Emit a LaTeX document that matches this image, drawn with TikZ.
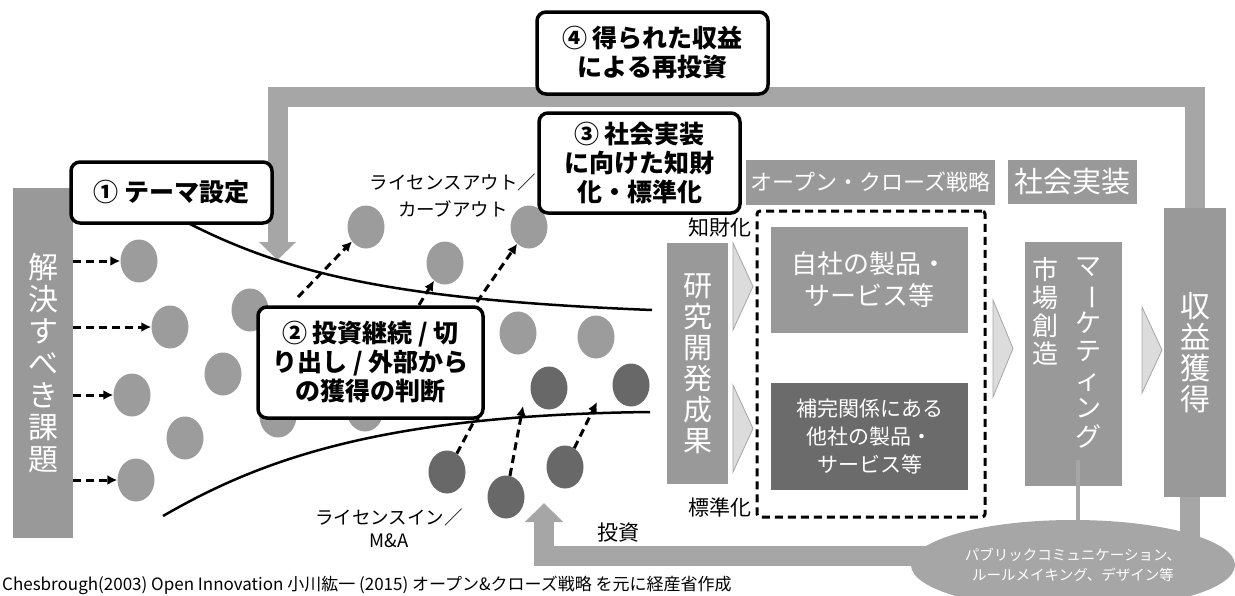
\documentclass[tikz,border=0pt]{standalone}
\usepackage{fontspec}
\setmainfont{Noto Sans CJK JP}
\usetikzlibrary{arrows.meta,shapes.geometric}
\definecolor{boxgray}{HTML}{999999}
\definecolor{boxdark}{HTML}{6B6B6B}
\definecolor{bandgray}{HTML}{A6A6A6}
\definecolor{chevgray}{HTML}{DCDCDC}
\definecolor{dotlight}{HTML}{9C9C9C}
\definecolor{dotdark}{HTML}{686868}
\newcommand{\fsz}[2]{\fontsize{#1}{#2}\selectfont}

\begin{document}
\begin{tikzpicture}[x=1pt, y=-1pt,
    block/.style={fill=boxgray, text=white, inner sep=0pt, align=center},
    callout/.style={draw=black, line width=3.5pt, rounded corners=9pt, fill=white,
        align=center, inner sep=0pt, font=\bfseries\fsz{25}{29}},
    dot/.style={ellipse, fill=dotlight, minimum width=37pt, minimum height=43pt, inner sep=0pt},
    darkdot/.style={dot, fill=dotdark},
    dasharrow/.style={dash pattern=on 8pt off 5pt, line width=3pt, -{Latex[length=10pt,width=10pt]}},
    funnel/.style={line width=2.5pt},
    band/.style={draw=bandgray, line width=20pt},
    chevron/.style={fill=chevgray, draw=bandgray, line width=0.8pt},
    note/.style={inner sep=0pt, align=center}]
\useasboundingbox (0,0) rectangle (1235,595);

% Feedback bands
\coordinate (reinv) at (277.5,260);
\coordinate (invtip) at (544,503);
\node[block, minimum width=62pt, minimum height=289pt, font=\fsz{30}{31}] (gain) at (1195,352.5)
    {収\\益\\獲\\得};
\draw[band, -{Triangle[width=36pt,length=18pt]}] (gain.north) -- (gain.north |- 0,96.5) -| (reinv);
\draw[band, -{Triangle[width=37pt,length=19pt]}] (gain.south -| 1190,0) -- ++(0,59) -| (invtip);

% Left: issues
\node[block, minimum width=60pt, minimum height=350pt, font=\fsz{30}{32}] (issue) at (43,363)
    {解\\決\\す\\べ\\き\\課\\題};

% Dots
\foreach \n/\x/\y in {1/139/261, 2/170/327, 3/132/395, 4/136/480, 5/250/310, 6/223/374,
    7/185/438, 8/278/416, 9/366/227, 10/445/263, 11/529/227, 12/518/333, 13/596/337, 14/365/410}
    \node[dot] (d\n) at (\x,\y) {};
\foreach \n/\x/\y in {15/549/388, 16/631/385, 17/447/472, 18/506/497, 19/565/467}
    \node[darkdot] (d\n) at (\x,\y) {};

% Funnel
\coordinate (topend) at (652,310);
\coordinate (botstart) at (163,516);
\coordinate (botend) at (650,412);
\draw[funnel] (188,223) .. controls (290,275) and (400,300) .. (topend);
\draw[funnel] (botstart) .. controls (260,460) and (380,415) .. (botend);

% Dashed arrows
\foreach \n in {1,2,3,4}
    \draw[dasharrow] (issue.east |- d\n) -- (d\n.west);
\coordinate (oa) at (298,297);
\coordinate (ob) at (419,305);
\coordinate (oc) at (477,302);
\draw[dasharrow] (oa) -- (d9);
\draw[dasharrow] (ob) -- (d10);
\draw[dasharrow] (oc) -- (d11.235);
\coordinate (ia) at (480,410);
\coordinate (ib) at (523,406);
\coordinate (ic) at (597,402);
\draw[dasharrow] (d17) -- (ia);
\draw[dasharrow] (d18) -- (ib);
\draw[dasharrow] (d19) -- (ic);

\node[note, font=\fsz{18.5}{27}] (lout) at (453,196) {ライセンスアウト／\\カーブアウト};
\node[note, font=\fsz{18.5}{23}] (lin) at (389,528) {ライセンスイン／\\M\&A};
\node[note, font=\fsz{21}{23}] (inv) at (618,533) {投資};

% R&D and open/close
\node[block, minimum width=61pt, minimum height=241pt, font=\fsz{29}{31}] (rnd) at (697.5,363.5)
    {研\\究\\開\\発\\成\\果};
\foreach \x/\ya/\yb in {733/243/330, 733/385/472, 993/300/397, 1142/307/393}
    \draw[chevron] (\x,\ya) -- (\x+20,{(\ya+\yb)/2}) -- (\x,\yb) -- cycle;
\node[note, anchor=east, font=\fsz{21}{23}] (ipr) at (752,228) {知財化};
\node[note, anchor=east, font=\fsz{21}{23}] (std) at (752,507) {標準化};
\node[draw, dash pattern=on 8pt off 5pt, line width=3pt, rounded corners=3pt,
    minimum width=228pt, minimum height=306pt] (ocbox) at (871,364) {};
\node[block, minimum width=197pt, minimum height=106pt, font=\fsz{26}{32}] (own) at (869.5,280)
    {自社の製品・\\サービス等};
\node[block, fill=boxdark, minimum width=197pt, minimum height=107pt, font=\fsz{21}{28}] (other) at (869.5,436.5)
    {補完関係にある\\他社の製品・\\サービス等};
\node[block, minimum width=249pt, minimum height=45pt, font=\fsz{22}{24}] (oclabel) at (870.5,182.5)
    {オープン・クローズ戦略};
\node[block, minimum width=129pt, minimum height=44pt, font=\fsz{29}{31}] (social) at (1072.5,182)
    {社会実装};

% Market creation
\node[block, minimum width=97pt, minimum height=244pt] (mkt) at (1073.5,364) {};
\node[note, anchor=north, text=white, font=\fsz{26}{28}] (mkta) at (1045,257) {市\\場\\創\\造};
\node[note, anchor=north, text=white, font=\fsz{26}{28.5}] (mktb) at (1088,257)
    {マ\\\rotatebox[origin=c]{-90}{ー}\\ケ\\テ\\ィ\\ン\\グ};
\coordinate (mktend) at (1078,460);
\draw[draw=bandgray, line width=4pt] (mktend) -- (mktend |- 0,540);
\node[ellipse, fill=bandgray, text=white, minimum width=324pt, minimum height=90pt, inner sep=0pt,
    align=center, font=\fsz{14.5}{20}] (pub) at (1073,565)
    {パブリックコミュニケーション、\\ルールメイキング、デザイン等};

% Callouts
\node[callout, minimum width=201pt, minimum height=61pt] (c1) at (171.5,192.5) {① テーマ設定};
\node[callout, minimum width=225pt, minimum height=111pt] (c2) at (370.5,362.5)
    {② 投資継続 / 切\\り出し / 外部から\\の獲得の判断};
\node[callout, minimum width=201pt, minimum height=100pt] (c3) at (639.5,163)
    {③ 社会実装\\に向けた知財\\化・標準化};
\node[callout, minimum width=231pt, minimum height=82pt] (c4) at (652.5,53)
    {④ 得られた収益\\による再投資};

% Source
\node[anchor=base west, inner sep=0pt, font=\fsz{17}{20}] (src) at (2,590)
    {Chesbrough(2003) Open Innovation 小川紘一 (2015) オープン\&クローズ戦略 を元に経産省作成};
\end{tikzpicture}
\end{document}
